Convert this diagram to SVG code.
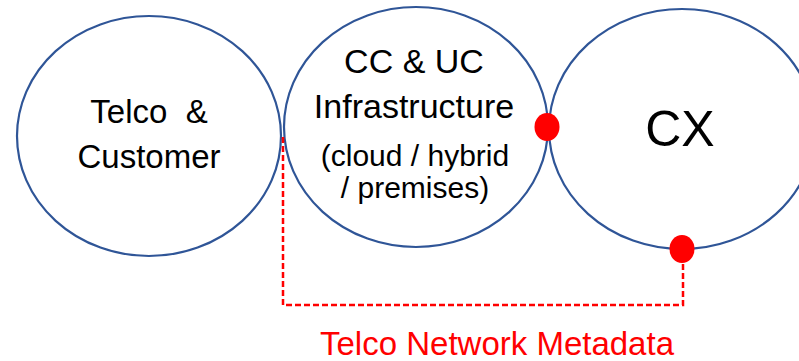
<svg xmlns="http://www.w3.org/2000/svg" width="799" height="361" viewBox="0 0 799 361">
<style>
.node{fill:#ffffff;stroke:#2f5597;stroke-width:2.2}
.t{font-family:"Liberation Sans",Arial,sans-serif;fill:#000;text-anchor:middle}
.dot{fill:#ff0000}
.conn{fill:none;stroke:#ff0000;stroke-width:2.5;stroke-dasharray:6,3}
</style>
<rect width="799" height="361" fill="#ffffff"/>
<g id="telco-customer">
<ellipse class="node" cx="149" cy="136" rx="132" ry="120"/>
<text class="t" x="149" y="123" font-size="33" xml:space="preserve">Telco  &amp;</text>
<text class="t" x="149" y="168" font-size="33">Customer</text>
</g>
<g id="cc-uc">
<ellipse class="node" cx="416" cy="127" rx="132" ry="120"/>
<text class="t" x="414" y="73" font-size="34">CC &amp; UC</text>
<text class="t" x="414" y="118" font-size="34">Infrastructure</text>
<text class="t" x="415" y="166" font-size="30">(cloud / hybrid</text>
<text class="t" x="415" y="198" font-size="30">/ premises)</text>
</g>
<g id="cx">
<ellipse class="node" cx="682" cy="129" rx="133" ry="120"/>
<text class="t" x="680" y="146" font-size="50">CX</text>
</g>
<g id="connectors">
<polyline class="conn" points="283,137 283,305 683,305 683,263"/>
<ellipse class="dot" cx="547" cy="127" rx="12.5" ry="14"/>
<ellipse class="dot" cx="682" cy="249" rx="12.5" ry="14"/>
<text class="t" x="497" y="355" font-size="33" style="fill:#ff0000">Telco Network Metadata</text>
</g>
</svg>
